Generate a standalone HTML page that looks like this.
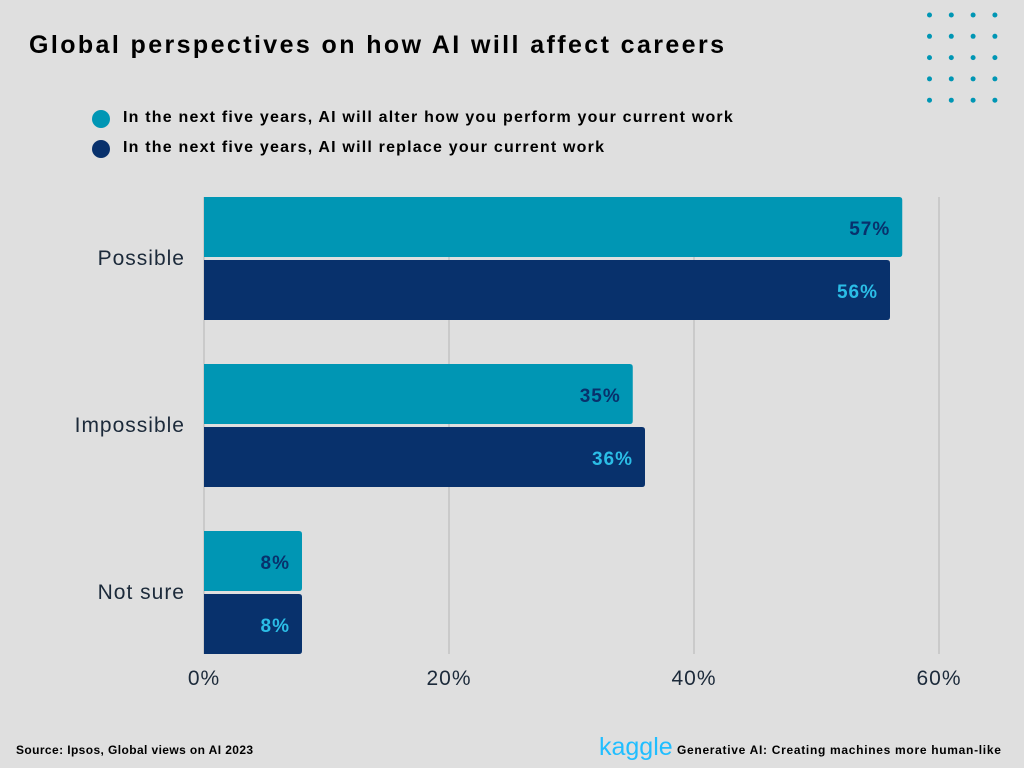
<!DOCTYPE html>
<html><head><meta charset="utf-8"><style>
body{margin:0;width:1024px;height:768px;background:#dfdfdf;font-family:"Liberation Sans",sans-serif;overflow:hidden;position:relative}
.t{position:absolute;white-space:nowrap}
</style></head><body>
<div class="t" style="left:29px;top:31px;font-size:25px;font-weight:bold;color:#000;letter-spacing:2.4px">Global perspectives on how AI will affect careers</div>
<div>
<div><div style="position:absolute;left:92px;top:110px;width:18px;height:18px;border-radius:50%;background:#0096b4"></div><div class="t" style="left:123px;top:109px;font-size:16px;font-weight:bold;letter-spacing:1.2px">In the next five years, AI will alter how you perform your current work</div></div>
<div><div style="position:absolute;left:92px;top:140px;width:18px;height:18px;border-radius:50%;background:#08316c"></div><div class="t" style="left:123px;top:139px;font-size:16px;font-weight:bold;letter-spacing:1.2px">In the next five years, AI will replace your current work</div></div>
</div>
<svg id="chart" width="1024" height="768" style="position:absolute;left:0;top:0" font-family="Liberation Sans, sans-serif"></svg>
<div class="t" style="left:16px;top:743px;font-size:12px;font-weight:bold;letter-spacing:0.4px">Source: Ipsos, Global views on AI 2023</div>
<div class="t" style="left:599px;top:733px;font-size:25px;color:#20beff">kaggle</div>
<div class="t" style="left:677px;top:743px;font-size:12px;font-weight:bold;letter-spacing:0.7px">Generative AI: Creating machines more human-like</div>
<script>
const categories=["Possible","Impossible","Not sure"];
const alterValues=[57,35,8];
const replaceValues=[56,36,8];
const ticks=[0,20,40,60];
const svg=document.getElementById('chart');
const NS="http://www.w3.org/2000/svg";
const x=v=>204+v*12.25;
const bandY=i=>197+i*167;
function mk(t,a){const e=document.createElementNS(NS,t);for(const k in a)e.setAttribute(k,a[k]);svg.appendChild(e);return e;}
for(let r=0;r<5;r++)for(let c=0;c<4;c++){const d=mk('circle',{cx:929.5+c*21.8,cy:15+r*21.3,r:2.5,fill:'#0096b4'});

}
ticks.forEach(t=>{
 if(t>0){const g=mk('line',{x1:x(t),x2:x(t),y1:197,y2:654,stroke:'#b5b5b5','stroke-width':1});
 
 }
 const l=mk('text',{x:x(t),y:685,'text-anchor':'middle','font-size':21,fill:'#1c2a3a','letter-spacing':1});l.textContent=t+'%';
 
 
});
const ax=mk('line',{x1:204,x2:204,y1:197,y2:654,stroke:'#b5b5b5'});


categories.forEach((c,i)=>{
 const y0=bandY(i);
 const cl=mk('text',{x:185,y:y0+68,'text-anchor':'end','font-size':21,fill:'#1c2a3a','letter-spacing':1});cl.textContent=c;
 
 
 [[alterValues[i],'#0096b4','#08316c',0],[replaceValues[i],'#08316c','#2bbde6',63]].forEach(([v,f,tc,off])=>{
  const b=mk('path',{d:`M204 ${y0+off}H${x(v)-3}Q${x(v)} ${y0+off} ${x(v)} ${y0+off+3}V${y0+off+57}Q${x(v)} ${y0+off+60} ${x(v)-3} ${y0+off+60}H204Z`,fill:f});
  
  
  const tx=mk('text',{x:x(v)-12,y:y0+off+38,'text-anchor':'end','font-size':19,'font-weight':'bold',fill:tc,'letter-spacing':1});tx.textContent=v+'%';
  
  
 });
});
</script>
</body></html>
